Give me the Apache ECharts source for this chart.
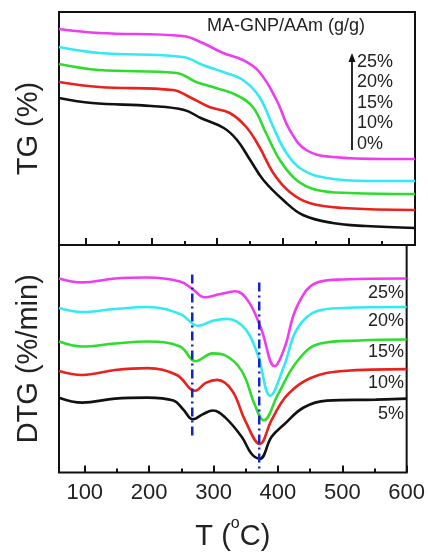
<!DOCTYPE html>
<html>
<head>
<meta charset="utf-8">
<script src="https://cdn.jsdelivr.net/npm/echarts@6/dist/echarts.min.js"></script>
<style>
  html, body { margin: 0; padding: 0; background: #fff; }
  #main { width: 428px; height: 552px; }
</style>
</head>
<body>
<div id="main"></div>
<script>
// TG curves (temperature / relative height, arbitrary units)
var tgTemp0 = [60, 110, 200, 250, 275, 310, 330, 350, 370, 400, 430, 475, 525, 600];
var tg0 = [147, 142, 139, 135, 127, 117, 105, 85, 65, 45, 30, 22, 19, 17];
var tgTemp10 = [60, 121, 233, 258, 288, 319, 344, 364, 385, 410, 440, 491, 600];
var tg10 = [163, 158, 155, 148, 138, 132, 118, 98, 72, 53, 42, 37, 35];
var tgTemp15 = [60, 121, 238, 268, 298, 329, 354, 374, 395, 420, 451, 501, 600];
var tg15 = [181, 175, 172, 163, 157, 150, 138, 112, 85, 65, 55, 52, 51];
var tgTemp20 = [60, 121, 248, 278, 309, 339, 364, 385, 405, 430, 466, 527, 600];
var tg20 = [198, 192, 188, 180, 173, 165, 148, 118, 92, 75, 67, 64, 64];
var tgTemp25 = [60, 121, 248, 278, 309, 339, 364, 390, 410, 435, 476, 552, 600];
var tg25 = [216, 212, 209, 202, 192, 185, 173, 145, 115, 95, 88, 86, 86];

// DTG curves
var dtgTemp5 = [60, 96, 147, 197, 238, 253, 268, 283, 299, 318, 344, 359, 372, 390, 410, 440, 476, 552, 600];
var dtg5 = [76, 71, 75, 76, 73, 64, 54, 59, 63, 56, 36, 19, 14, 36, 49, 66, 73, 74, 75];
var dtgTemp10 = [60, 96, 147, 197, 243, 271, 288, 306, 329, 349, 372, 390, 415, 451, 501, 600];
var dtg10 = [103, 99, 104, 106, 99, 83, 91, 94, 83, 53, 29, 53, 79, 96, 103, 105];
var dtgTemp15 = [60, 96, 147, 197, 248, 272, 299, 318, 344, 364, 378, 400, 430, 466, 527, 600];
var dtg15 = [133, 128, 131, 133, 128, 113, 121, 119, 103, 69, 53, 79, 113, 131, 134, 135];
var dtgTemp20 = [60, 96, 147, 197, 248, 276, 299, 321, 349, 369, 388, 410, 430, 461, 501, 600];
var dtg20 = [167, 163, 166, 168, 161, 149, 154, 156, 146, 119, 78, 109, 146, 164, 167, 168];
var dtgTemp25 = [60, 96, 147, 197, 248, 268, 286, 309, 334, 354, 374, 395, 410, 430, 461, 501, 600];
var dtg25 = [197, 193, 197, 198, 194, 186, 178, 181, 184, 174, 146, 108, 126, 169, 193, 196, 197];

// dash-dot guide lines (temperature, top, bottom)
var guideTemps = [267, 371];
var guideTop = [201, 193];
var guideBottom = [36, 0];

var majorTicks = [100, 200, 300, 400, 500, 600];
var minorTicks = [150, 250, 350, 450, 550];
var tgLabels = ['25%', '20%', '15%', '10%', '0%'];
var dtgLabels = ['25%', '20%', '15%', '10%', '5%'];

var colors = ['#111111', '#e8221e', '#2edc2e', '#33eaf2', '#ee3cee'];
var textColor = '#222';

function pairs(xs, ys) {
    var out = [];
    for (var i = 0; i < xs.length; i++) {
        out.push([xs[i], ys[i]]);
    }
    return out;
}

function curve(name, xi, yi, xs, ys, color) {
    return {
        name: name,
        type: 'line',
        xAxisIndex: xi,
        yAxisIndex: yi,
        data: pairs(xs, ys),
        smooth: 0.4,
        showSymbol: false,
        lineStyle: {color: color, width: 2.6},
        z: 3
    };
}

function xAxes(gridIndex, withLabels) {
    return [
        {
            type: 'value', gridIndex: gridIndex, position: 'bottom',
            min: 60, max: 600,
            axisLine: {show: false},
            splitLine: {show: false},
            axisTick: {show: true, inside: true, length: 7, customValues: majorTicks,
                lineStyle: {color: '#111', width: 2}},
            axisLabel: {show: withLabels, customValues: majorTicks, margin: 9,
                fontSize: 22, color: textColor, fontFamily: 'Liberation Sans, Arial'},
            name: withLabels ? 'T ({sup|o}C)' : '',
            nameLocation: 'middle',
            nameGap: 43,
            nameTextStyle: {fontSize: 29, color: textColor, fontFamily: 'Liberation Sans, Arial',
                rich: {sup: {fontSize: 16, color: textColor, padding: [0, 0, 26, 0],
                    fontFamily: 'Liberation Sans, Arial'}}}
        },
        {
            type: 'value', gridIndex: gridIndex, position: 'bottom',
            min: 60, max: 600,
            axisLine: {show: false},
            splitLine: {show: false},
            axisTick: {show: true, inside: true, length: 4, customValues: minorTicks,
                lineStyle: {color: '#111', width: 2}},
            axisLabel: {show: false}
        }
    ];
}

function yAxis(gridIndex, max, name) {
    return {
        type: 'value', gridIndex: gridIndex,
        min: 0, max: max,
        axisLine: {show: false},
        axisTick: {show: false},
        axisLabel: {show: false},
        splitLine: {show: false},
        name: name,
        nameLocation: 'middle',
        nameRotate: 90,
        nameGap: 16,
        nameTextStyle: {fontSize: 29, color: textColor, fontFamily: 'Liberation Sans, Arial'}
    };
}

var series = [
    curve('0%', 0, 0, tgTemp0, tg0, colors[0]),
    curve('10%', 0, 0, tgTemp10, tg10, colors[1]),
    curve('15%', 0, 0, tgTemp15, tg15, colors[2]),
    curve('20%', 0, 0, tgTemp20, tg20, colors[3]),
    curve('25%', 0, 0, tgTemp25, tg25, colors[4]),
    curve('5%', 2, 1, dtgTemp5, dtg5, colors[0]),
    curve('10%', 2, 1, dtgTemp10, dtg10, colors[1]),
    curve('15%', 2, 1, dtgTemp15, dtg15, colors[2]),
    curve('20%', 2, 1, dtgTemp20, dtg20, colors[3]),
    curve('25%', 2, 1, dtgTemp25, dtg25, colors[4])
];

for (var g = 0; g < guideTemps.length; g++) {
    series.push({
        type: 'line',
        xAxisIndex: 2,
        yAxisIndex: 1,
        data: [[guideTemps[g], guideTop[g]], [guideTemps[g], guideBottom[g]]],
        showSymbol: false,
        lineStyle: {color: '#1424c4', width: 2.5, type: [9, 4, 2, 4]},
        z: 5
    });
}

// annotation texts
var graphics = [{
    type: 'text', left: 207, top: 17,
    style: {text: 'MA-GNP/AAm (g/g)', fontSize: 18, fill: textColor, fontFamily: 'Liberation Sans, Arial'}
}, {
    type: 'line', shape: {x1: 352, y1: 150, x2: 352, y2: 60},
    style: {stroke: '#111', lineWidth: 1.8}
}, {
    type: 'polygon', shape: {points: [[352, 53], [348.5, 62], [355.5, 62]]},
    style: {fill: '#111'}
}];
for (var i = 0; i < tgLabels.length; i++) {
    graphics.push({
        type: 'text', x: 357, y: 62 + i * 20.5,
        style: {text: tgLabels[i], fontSize: 18, fill: textColor, verticalAlign: 'middle',
            fontFamily: 'Liberation Sans, Arial'}
    });
}
var dtgLabelY = [293, 321, 352, 383, 414];
for (var j = 0; j < dtgLabels.length; j++) {
    graphics.push({
        type: 'text', x: 404, y: dtgLabelY[j],
        style: {text: dtgLabels[j], fontSize: 18, fill: textColor, align: 'right', verticalAlign: 'middle',
            fontFamily: 'Liberation Sans, Arial'}
    });
}

var chart = echarts.init(document.getElementById('main'));
var option = {
    backgroundColor: '#fff',
    animation: false,
    grid: [
        {left: 59, top: 12, width: 356, height: 233, show: true, borderColor: '#111', borderWidth: 2},
        {left: 59, top: 245, width: 356, height: 231, show: true, borderColor: '#111', borderWidth: 2}
    ],
    xAxis: xAxes(0, false).concat(xAxes(1, true)),
    yAxis: [yAxis(0, 233, 'TG (%)'), yAxis(1, 231, 'DTG (%/min)')],
    series: series,
    graphic: graphics
};
chart.setOption(option);
</script>
</body>
</html>
